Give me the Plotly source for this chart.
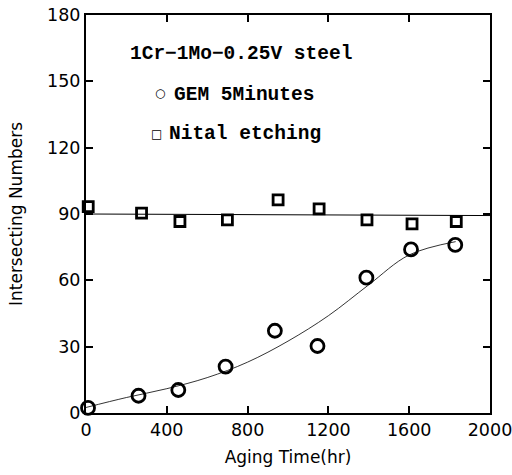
import plotly.graph_objects as go

# GEM 5 minutes (circles)
gem_x = [10, 260, 457, 691, 935, 1146, 1388, 1609, 1828]
gem_y = [2.3, 7.8, 10.4, 21, 37.2, 30.3, 61.2, 74, 76]

# Nital etching (squares)
nital_x = [11, 275, 465, 700, 951, 1154, 1391, 1614, 1833]
nital_y = [93.3, 90.4, 86.6, 87.3, 96.4, 92.3, 87.3, 85.5, 86.6]

# fitted curve through GEM data
fit_x = [0, 200, 400, 600, 800, 1000, 1200, 1400, 1600, 1830]
fit_y = [2.5, 7, 11, 16, 23, 32.5, 44, 58, 71.5, 77.5]

# horizontal reference line for Nital
hline_x = [0, 2000]
hline_y = [90, 89.3]

x_ticks = [0, 400, 800, 1200, 1600, 2000]
y_ticks = [0, 30, 60, 90, 120, 150, 180]

fig = go.Figure()
fig.add_trace(go.Scatter(x=hline_x, y=hline_y, mode="lines",
                         line=dict(color="black", width=1), showlegend=False))
fig.add_trace(go.Scatter(x=fit_x, y=fit_y, mode="lines",
                         line=dict(color="black", width=0.8, shape="spline"), showlegend=False))
fig.add_trace(go.Scatter(x=gem_x, y=gem_y, mode="markers",
                         marker=dict(symbol="circle-open", size=13, color="black",
                                     line=dict(width=2.8, color="black")),
                         showlegend=False, cliponaxis=False))
fig.add_trace(go.Scatter(x=nital_x, y=nital_y, mode="markers",
                         marker=dict(symbol="square-open", size=10, color="black",
                                     line=dict(width=2.8, color="black")),
                         showlegend=False, cliponaxis=False))

serif = dict(family="Liberation Mono", size=19.5, color="black")
fig.add_annotation(x=208, y=162.5, text="<b>1Cr\u22121Mo\u22120.25V steel</b>", showarrow=False,
                   xanchor="left", yanchor="middle", font=serif)
fig.add_annotation(x=366, y=144.5, text="\u25cb", showarrow=False,
                   xanchor="center", yanchor="middle", font=dict(family="DejaVu Sans", size=12, color="black"))
fig.add_annotation(x=425, y=144, text="<b>GEM 5Minutes</b>", showarrow=False,
                   xanchor="left", yanchor="middle", font=serif)
fig.add_annotation(x=351, y=126.3, text="\u25a1", showarrow=False,
                   xanchor="center", yanchor="middle", font=dict(family="DejaVu Sans", size=12, color="black"))
fig.add_annotation(x=400, y=126.3, text="<b>Nital etching</b>", showarrow=False,
                   xanchor="left", yanchor="middle", font=serif)

axis_common = dict(showgrid=False, zeroline=False, showline=True, linecolor="black",
                   linewidth=2, mirror="ticks", ticks="inside", ticklen=7, tickwidth=2,
                   tickcolor="black", ticklabeloverflow="allow", automargin=False,
                   tickfont=dict(family="DejaVu Sans", size=17.5, color="black"))

fig.update_xaxes(range=[0, 2000], tickvals=x_ticks, ticktext=[str(v) for v in x_ticks],
                 title=dict(text="Aging Time(hr)", font=dict(family="DejaVu Sans", size=17, color="black"),
                            standoff=12),
                 **axis_common)
fig.update_yaxes(range=[0, 180], tickvals=y_ticks, ticktext=[str(v) for v in y_ticks],
                 title=dict(text="Intersecting Numbers", font=dict(family="DejaVu Sans", size=17, color="black"),
                            standoff=20),
                 **axis_common)

fig.update_layout(width=512, height=475, margin=dict(l=86, r=22, t=15, b=62),
                  plot_bgcolor="white", paper_bgcolor="white")

fig.write_html("out.html")
